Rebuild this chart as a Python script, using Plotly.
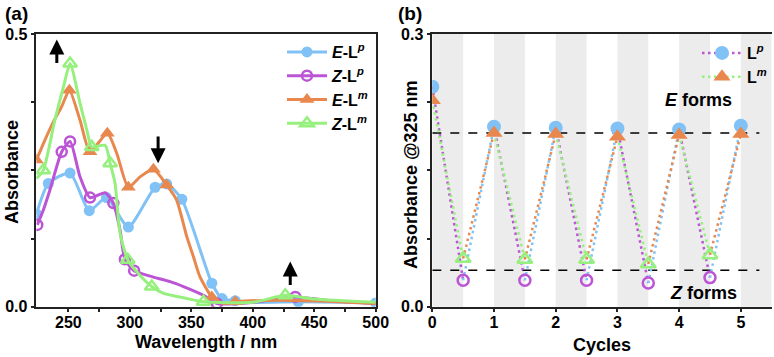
import plotly.graph_objects as go

# ---------------- Panel (a) data: UV-vis spectra ----------------
wl_ELp = [224, 233.7, 251.4, 267, 281, 298.8, 320.6, 330, 342.3, 366.7, 375, 385.7, 400, 437, 470, 500]
ab_ELp = [0.170, 0.226, 0.245, 0.176, 0.200, 0.146, 0.219, 0.225, 0.197, 0.043, 0.015, 0.011, 0.008, 0.009, 0.008, 0.007]
mk_ELp = [0, 1, 2, 3, 4, 5, 6, 7, 8, 9, 10, 11, 13, 15]

wl_ZLp = [224.7, 229.6, 235, 244.6, 251.4, 259.5, 267.6, 279.9, 286.6, 292, 296, 303.5, 316.5, 332.8, 343.6, 359.9, 370.8, 400, 434.6, 460, 500]
ab_ZLp = [0.150, 0.177, 0.214, 0.284, 0.303, 0.238, 0.200, 0.209, 0.190, 0.141, 0.087, 0.066, 0.056, 0.046, 0.037, 0.021, 0.006, 0.008, 0.018, 0.012, 0.006]
mk_ZLp = [0, 3, 4, 6, 8, 10, 11, 16, 18]

wl_ELm = [224, 231, 237.8, 244.6, 250.8, 259.5, 267.6, 281.7, 289.4, 298.8, 308.3, 319.2, 330, 338, 346.4, 351.7, 357, 366.7, 376, 385.7, 420, 460, 500]
ab_ELm = [0.269, 0.306, 0.339, 0.367, 0.397, 0.342, 0.284, 0.318, 0.281, 0.219, 0.238, 0.252, 0.223, 0.196, 0.128, 0.092, 0.055, 0.018, 0.006, 0.009, 0.012, 0.010, 0.006]
mk_ELm = [0, 4, 6, 7, 9, 11, 12, 17, 19]

wl_ZLm = [224, 229.6, 239, 246, 251.4, 259.5, 265, 269, 279.9, 284, 288, 292, 298.3, 308, 317.8, 327, 346.4, 359.9, 400, 426.5, 450, 500]
ab_ZLm = [0.235, 0.250, 0.342, 0.403, 0.446, 0.373, 0.324, 0.293, 0.296, 0.263, 0.226, 0.135, 0.086, 0.058, 0.037, 0.025, 0.015, 0.009, 0.008, 0.021, 0.014, 0.008]
mk_ZLm = [1, 4, 7, 9, 12, 14, 17, 19]

# ---------------- Panel (b) data: switching cycles ----------------
cyc_E = [0, 1, 2, 3, 4, 5]
cyc_Z = [0.5, 1.5, 2.5, 3.5, 4.5]
Lp_E = [0.242, 0.198, 0.197, 0.196, 0.195, 0.199]
Lp_Z = [0.029, 0.029, 0.029, 0.026, 0.032]
Lm_E = [0.227, 0.191, 0.190, 0.187, 0.189, 0.190]
Lm_Z = [0.053, 0.052, 0.052, 0.047, 0.057]
E_level = 0.191
Z_level = 0.040

BLUE = '#80C2F5'
PURPLE = '#BB55D5'
ORANGE = '#E8884E'
GREEN = '#96F07E'
FONT = 'Liberation Sans, Arial, sans-serif'

fig = go.Figure()

def spectrum(wl, ab, mk, color, symbol, name, open_marker, size):
    fig.add_trace(go.Scatter(x=wl, y=ab, mode='lines', line=dict(color=color, width=3, shape='spline', smoothing=0.6),
                             showlegend=False, hoverinfo='skip', xaxis='x', yaxis='y'))
    mx = [wl[i] for i in mk]
    my = [ab[i] for i in mk]
    if open_marker:
        m = dict(symbol=symbol + '-open', size=size, color=color, line=dict(color=color, width=2.5))
    else:
        m = dict(symbol=symbol, size=size, color=color, line=dict(width=0))
    fig.add_trace(go.Scatter(x=mx, y=my, mode='markers', marker=m, showlegend=False, xaxis='x', yaxis='y'))
    fig.add_trace(go.Scatter(x=[None], y=[None], mode='lines+markers', name=name,
                             line=dict(color=color, width=3), marker=m, legend='legend', xaxis='x', yaxis='y'))

spectrum(wl_ELp, ab_ELp, mk_ELp, BLUE, 'circle', '<i>E</i>-L<sup><i>p</i></sup>', False, 11)
spectrum(wl_ZLp, ab_ZLp, mk_ZLp, PURPLE, 'circle', '<i>Z</i>-L<sup><i>p</i></sup>', True, 10)
spectrum(wl_ELm, ab_ELm, mk_ELm, ORANGE, 'triangle-up', '<i>E</i>-L<sup><i>m</i></sup>', False, 13)
spectrum(wl_ZLm, ab_ZLm, mk_ZLm, GREEN, 'triangle-up', '<i>Z</i>-L<sup><i>m</i></sup>', True, 12)

# ---- panel (b) ----
def segs(e, z, down):
    xs, ys = [], []
    for i in range(len(cyc_Z)):
        if down:
            xs += [cyc_E[i], cyc_Z[i], None]
            ys += [e[i], z[i], None]
        else:
            xs += [cyc_Z[i], cyc_E[i + 1], None]
            ys += [z[i], e[i + 1], None]
    return xs, ys

DOT = '2.5px,3.5px'
for e, z, cdown, cup in [(Lp_E, Lp_Z, PURPLE, BLUE), (Lm_E, Lm_Z, GREEN, ORANGE)]:
    xs, ys = segs(e, z, True)
    fig.add_trace(go.Scatter(x=xs, y=ys, mode='lines', line=dict(color=cdown, width=2.5, dash=DOT),
                             showlegend=False, xaxis='x2', yaxis='y2'))
    xs, ys = segs(e, z, False)
    fig.add_trace(go.Scatter(x=xs, y=ys, mode='lines', line=dict(color=cup, width=2.5, dash=DOT),
                             showlegend=False, xaxis='x2', yaxis='y2'))

fig.add_trace(go.Scatter(x=cyc_Z, y=Lp_Z, mode='markers', marker=dict(symbol='circle-open', size=11, color=PURPLE, line=dict(width=2.5, color=PURPLE)),
                         showlegend=False, xaxis='x2', yaxis='y2'))
fig.add_trace(go.Scatter(x=cyc_Z, y=Lm_Z, mode='markers', marker=dict(symbol='triangle-up-open', size=13, color=GREEN, line=dict(width=2.5, color=GREEN)),
                         showlegend=False, xaxis='x2', yaxis='y2'))
fig.add_trace(go.Scatter(x=cyc_E, y=Lp_E, mode='markers', marker=dict(symbol='circle', size=14, color=BLUE),
                         showlegend=False, xaxis='x2', yaxis='y2'))
fig.add_trace(go.Scatter(x=cyc_E, y=Lm_E, mode='markers', marker=dict(symbol='triangle-up', size=15, color=ORANGE),
                         showlegend=False, xaxis='x2', yaxis='y2'))
fig.add_trace(go.Scatter(x=[None], y=[None], mode='lines+markers', name='L<sup><i>p</i></sup>',
                         line=dict(color=PURPLE, width=2.5, dash=DOT), marker=dict(symbol='circle', size=14, color=BLUE),
                         legend='legend2', xaxis='x2', yaxis='y2'))
fig.add_trace(go.Scatter(x=[None], y=[None], mode='lines+markers', name='L<sup><i>m</i></sup>',
                         line=dict(color=GREEN, width=2.5, dash=DOT), marker=dict(symbol='triangle-up', size=15, color=ORANGE),
                         legend='legend2', xaxis='x2', yaxis='y2'))

shapes = []
for n in range(6):
    shapes.append(dict(type='rect', xref='x2', yref='y2 domain', x0=n, x1=n + 0.5, y0=0, y1=1,
                       fillcolor='#ECECEC', line=dict(width=0), layer='below'))
for lv in [E_level, Z_level]:
    shapes.append(dict(type='line', xref='x2', yref='y2', x0=0, x1=5.3, y0=lv, y1=lv,
                       line=dict(color='black', width=1.5, dash='dash'), layer='below'))

W, H = 774, 357
def px(v): return v / W
def py(v): return 1 - v / H

axis_common = dict(showline=True, linecolor='#222', linewidth=1.5, ticks='outside', ticklen=4, tickwidth=1.5,
                   tickcolor='#222', showgrid=False, zeroline=False, automargin=False,
                   tickfont=dict(family=FONT, size=16, color='black', weight='bold'))

annots = []
def txt(x, y, s, size=18, **kw):
    annots.append(dict(x=x, y=y, xref='paper', yref='paper', text=s, showarrow=False,
                       font=dict(family=FONT, size=size, color='black', weight='bold'), **kw))

txt(px(3), py(14), '(a)', 19, xanchor='left', yanchor='middle')
txt(px(396), py(14), '(b)', 19, xanchor='left', yanchor='middle')
txt(px(12), py(172), 'Absorbance', 18, textangle=-90, xanchor='center', yanchor='middle')
txt(px(206), py(342), 'Wavelength / nm', 18, xanchor='center', yanchor='middle')
txt(px(411), py(175), 'Absorbance @325 nm', 18, textangle=-90, xanchor='center', yanchor='middle')
txt(px(602), py(345), 'Cycles', 18, xanchor='center', yanchor='middle')
annots.append(dict(x=4.32, y=0.227, xref='x2', yref='y2', text='<i>E</i> forms', showarrow=False,
                   font=dict(family=FONT, size=18, color='black', weight='bold')))
annots.append(dict(x=4.40, y=0.0154, xref='x2', yref='y2', text='<i>Z</i> forms', showarrow=False,
                   font=dict(family=FONT, size=18, color='black', weight='bold')))

for (x, y0, y1) in [(240.6, 0.444, 0.49), (323, 0.315, 0.263), (430.5, 0.037, 0.083)]:
    annots.append(dict(x=x, y=y1, ax=x, ay=y0, xref='x', yref='y', axref='x', ayref='y', text='',
                       showarrow=True, arrowhead=2, arrowsize=1, arrowwidth=3, arrowcolor='black'))

fig.update_layout(
    width=W, height=H, margin=dict(l=0, r=0, t=0, b=0, autoexpand=False),
    paper_bgcolor='white', plot_bgcolor='white',
    font=dict(family=FONT, size=16, color='black', weight='bold'),
    xaxis=dict(domain=[px(36.4), px(375.7)], range=[224, 500], mirror=True, ticklabelstandoff=-4,
               tickmode='array', tickvals=[250, 275, 300, 325, 350, 375, 400, 425, 450, 475, 500],
               ticktext=['250', '', '300', '', '350', '', '400', '', '450', '', '500'], anchor='y', **axis_common),
    yaxis=dict(domain=[py(306.7), py(34)], range=[0, 0.5], mirror=True,
               tickmode='array', tickvals=[0, 0.125, 0.25, 0.375, 0.5],
               ticktext=['0.0', '', '', '', '0.5'], anchor='x', **axis_common),
    xaxis2=dict(domain=[px(432.3), px(771.7)], range=[0, 5.5], mirror=True, ticklabelstandoff=-4,
                tickmode='array', tickvals=[0, 1, 2, 3, 4, 5], ticktext=['0', '1', '2', '3', '4', '5'], anchor='y2', **axis_common),
    yaxis2=dict(domain=[py(306.7), py(34)], range=[0, 0.3],
                tickmode='array', tickvals=[0, 0.075, 0.15, 0.225, 0.3],
                ticktext=['0.0', '', '', '', '0.3'], anchor='x2', **axis_common),
    legend=dict(x=px(282), y=py(35), xanchor='left', yanchor='top', bgcolor='rgba(0,0,0,0)',
                font=dict(family=FONT, size=16, color='black', weight='bold'), tracegroupgap=0, itemwidth=40),
    legend2=dict(x=px(697), y=py(36), xanchor='left', yanchor='top', bgcolor='rgba(0,0,0,0)',
                 font=dict(family=FONT, size=16, color='black', weight='bold'), tracegroupgap=0, itemwidth=40),
    shapes=shapes, annotations=annots,
)

fig.write_html('out.html', config={'displayModeBar': False},
               post_script="document.body.style.margin='0';document.body.style.padding='0';")
